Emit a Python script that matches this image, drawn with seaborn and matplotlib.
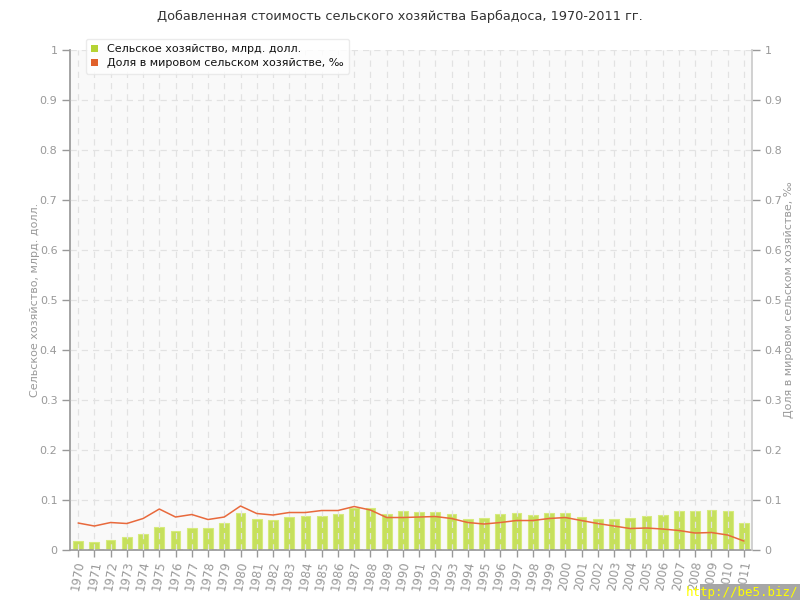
import numpy as np
import pandas as pd
import matplotlib
matplotlib.use("Agg")
import matplotlib.pyplot as plt
import seaborn as sns
from matplotlib.patches import Patch

years = list(range(1970, 2012))
agri_value = [0.018, 0.017, 0.021, 0.026, 0.033, 0.046, 0.038, 0.045, 0.045, 0.054,
              0.074, 0.063, 0.060, 0.066, 0.068, 0.068, 0.072, 0.085, 0.084, 0.073,
              0.078, 0.076, 0.076, 0.072, 0.063, 0.065, 0.072, 0.074, 0.070, 0.074,
              0.075, 0.067, 0.063, 0.063, 0.065, 0.069, 0.071, 0.079, 0.079, 0.081,
              0.079, 0.055]
world_share = [0.054, 0.048, 0.055, 0.053, 0.063, 0.082, 0.066, 0.071, 0.061, 0.066,
               0.088, 0.073, 0.070, 0.075, 0.075, 0.079, 0.079, 0.087, 0.080, 0.065,
               0.065, 0.066, 0.067, 0.063, 0.055, 0.052, 0.055, 0.059, 0.059, 0.063,
               0.065, 0.059, 0.053, 0.048, 0.043, 0.044, 0.042, 0.039, 0.034, 0.035,
               0.030, 0.018]
y_ticks = [0, 0.1, 0.2, 0.3, 0.4, 0.5, 0.6, 0.7, 0.8, 0.9, 1]
y_tick_labels = ["0", "0.1", "0.2", "0.3", "0.4", "0.5", "0.6", "0.7", "0.8", "0.9", "1"]

title = "Добавленная стоимость сельского хозяйства Барбадоса, 1970-2011 гг."
left_label = "Сельское хозяйство, млрд. долл."
right_label = "Доля в мировом сельском хозяйстве, ‰"

sns.set_theme(style="white")
plt.rcParams['font.family'] = ['DejaVu Sans']

df = pd.DataFrame({"year": [str(y) for y in years], "value": agri_value, "share": world_share})

fig = plt.figure(figsize=(8, 6), dpi=100)
ax = fig.add_axes([0.0875, 0.0833, 0.8525, 0.8334])
ax.set_facecolor("#f9f9f9")

bar_c = "#c6e05c"
line_c = "#e8693c"
gray = "#999999"

sns.barplot(data=df, x="year", y="value", ax=ax, color=bar_c, width=0.6,
            edgecolor="#d6eb7c", linewidth=0.8, saturation=1, zorder=2)

ax.set_xlim(-0.5, len(years) - 0.5)
ax.set_ylim(0, 1)
ax.set_yticks(y_ticks)
ax.set_yticklabels(y_tick_labels)

ax.grid(True, axis="both", color="#e2e2e2", linestyle=(0, (5, 4)), linewidth=0.9, zorder=3)
ax.set_axisbelow(False)

ax2 = ax.twinx()
ax2.set_ylim(0, 1)
ax2.set_yticks(y_ticks)
ax2.set_yticklabels(y_tick_labels)
sns.lineplot(x=np.arange(len(years)), y=world_share, ax=ax2, color=line_c, linewidth=1.1)
ax2.set_xlim(-0.5, len(years) - 0.5)

for a in (ax, ax2):
    for s in a.spines.values():
        s.set_visible(False)
    a.tick_params(colors=gray, labelcolor=gray, labelsize=8, length=6, width=1,
                  direction="out", pad=3)

ax.spines["left"].set_visible(True)
ax.spines["left"].set_color("#999999")
ax.spines["bottom"].set_visible(True)
ax.spines["bottom"].set_color("#999999")
ax2.spines["right"].set_visible(True)
ax2.spines["right"].set_color("#cccccc")
ax.tick_params(axis="y", left=True)
ax2.tick_params(axis="y", right=True)
ax.tick_params(axis="x", bottom=True, length=5, labelsize=8.5, pad=2)

ax.set_xlabel("")
ax.set_ylabel(left_label, color=gray, fontsize=8, labelpad=0)
ax2.set_ylabel(right_label, color=gray, fontsize=8, labelpad=1)
plt.setp(ax.get_xticklabels(), rotation=80, color=gray)

fig.text(0.5, 0.972, title, ha="center", va="center", fontsize=9.3, color="#333333")

handles = [Patch(facecolor="#b5d334", edgecolor="none"),
           Patch(facecolor="#e0602a", edgecolor="none")]
leg = fig.legend(handles, [left_label, right_label], loc="upper left",
                 bbox_to_anchor=(0.1, 0.945), frameon=True, fontsize=8,
                 handlelength=0.6, handleheight=0.6, handletextpad=0.8,
                 labelspacing=0.35, borderpad=0.5, fancybox=True, shadow=False)
leg.get_frame().set_edgecolor("#e6e6e6")
leg.get_frame().set_facecolor("white")
for t in leg.get_texts():
    t.set_color("#111111")
leg.set_zorder(10)

fig.patches.append(plt.Rectangle((0.875, 0.0), 0.125, 0.027, transform=fig.transFigure,
                                 facecolor="#a6a6a6", edgecolor="none", zorder=5))
fig.text(0.998, 0.012, "http://be5.biz/", ha="right", va="center", fontsize=9,
         color="#ffff00", family="DejaVu Sans Mono", zorder=6)

fig.savefig("out.png", dpi=100)
